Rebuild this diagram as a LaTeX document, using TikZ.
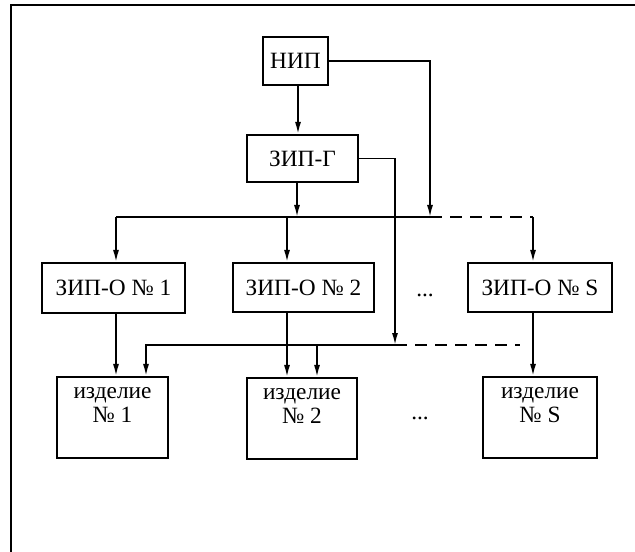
\documentclass[tikz,border=0pt]{standalone}
\usepackage{fontspec}
\setmainfont{Liberation Serif}
\usepackage{tikz}
\usetikzlibrary{arrows.meta,calc,positioning}
\tikzset{
  bx/.style={rectangle,draw=black,line width=1.6pt,inner sep=0pt,font=\fontsize{17.5}{18}\selectfont},
  bxi/.style={bx,align=center,font=\fontsize{17.5}{18}\selectfont},
  sz/.style 2 args={minimum width=#1*0.75pt,minimum height=#2*0.75pt},
  lnk/.style={draw=black,line width=1.2pt},
  arr/.style={lnk,-{Latex[length=9pt,width=4.5pt]}},
  dsh/.style={lnk,dash pattern=on 9pt off 6pt},
  frm/.style={draw=black,line width=1.8pt},
  lb/.style={font=\fontsize{17.5}{18}\selectfont},
}
\begin{document}
\begin{tikzpicture}[x=0.75pt,y=-0.75pt]
\useasboundingbox (0,0) rectangle (635,552);
% frame, cut at the right and bottom
\draw[frm] (635,5) -- (11,5) -- (11,552);
% top levels
\node[bx,sz={65}{48}] (nip) at (295.5,61) {НИП};
\node[bx,sz={111}{47}] (zipg) at (302.5,158.5) {ЗИП-Г};
% depots
\node[bx,sz={143}{50}] (zo1) at (113.5,288) {ЗИП-О № 1};
\node[bx,sz={141}{49}] (zo2) at (303.5,287.5) {ЗИП-О № 2};
\node[bx,sz={144}{49}] (zoS) at (540,287.5) {ЗИП-О № S};
\node[lb] (dots1) at (425,295) {...};
% items
\node[bxi,sz={111}{81}] (iz1) at (112.5,417.5) {изделие\\№ 1\\\mbox{}};
\node[bxi,sz={110}{81}] (iz2) at (302,418.5) {изделие\\№ 2\\\mbox{}};
\node[bxi,sz={114}{81}] (izS) at (540,417.5) {изделие\\№ S\\\mbox{}};
\node[lb] (dots2) at (420,418) {...};
% upper bus
\coordinate (b1) at (116,217); \coordinate (b2) at (287,217);
\coordinate (ja) at (430,217); \coordinate (bs) at (533,217);
\draw[arr] (nip.south -| 298,0) -- (zipg.north -| 298,0);
\draw[arr] (nip.east) -| (ja);
\draw[arr] (zipg.south -| 297,0) -- (ja -| 297,0);
\draw[lnk] (b1) -- (ja);
\draw[dsh] (ja) -- (bs);
\draw[arr] (b1) -- (b1 |- zo1.north);
\draw[arr] (b2) -- (b2 |- zo2.north);
\draw[arr] (bs) -- (bs |- zoS.north);
% lower bus
\coordinate (c1) at (146,345); \coordinate (c2) at (317,345);
\coordinate (jb) at (395,345); \coordinate (cs) at (520,345);
\draw[arr] (zipg.east) -| (jb);
\draw[arr] (jb) -| (c1 |- iz1.north);
\draw[dsh] (jb) -- (cs);
\draw[arr] (c2) -- (c2 |- iz2.north);
% depot to item
\draw[arr] (b1 |- zo1.south) -- (b1 |- iz1.north);
\draw[arr] (b2 |- zo2.south) -- (b2 |- iz2.north);
\draw[arr] (bs |- zoS.south) -- (bs |- izS.north);
\end{tikzpicture}
\end{document}
